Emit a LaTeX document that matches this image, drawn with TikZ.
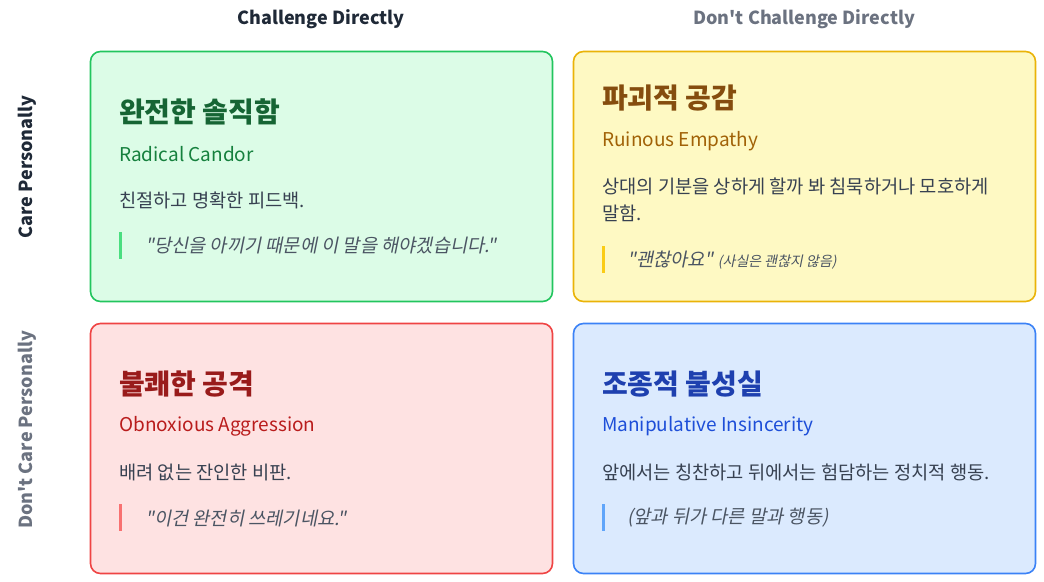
\documentclass[tikz,border=0pt]{standalone}
\usepackage{fontspec}
\setmainfont{Noto Sans CJK KR}[Ligatures=TeXOff]
\newfontfamily\quotefont{Noto Sans CJK KR}[FakeSlant=0.2,Ligatures=TeXOff]
\usepackage{tikz}
\usetikzlibrary{positioning}
\usepackage{xcolor}

\definecolor{rcLine}{HTML}{22C55E}
\definecolor{rcFill}{HTML}{DCFCE7}
\definecolor{rcTitle}{HTML}{166534}
\definecolor{rcSub}{HTML}{15803D}
\definecolor{rcBar}{HTML}{4ADE80}
\definecolor{reLine}{HTML}{EAB308}
\definecolor{reFill}{HTML}{FEF9C3}
\definecolor{reTitle}{HTML}{854D0E}
\definecolor{reSub}{HTML}{A16207}
\definecolor{reBar}{HTML}{FACC15}
\definecolor{oaLine}{HTML}{EF4444}
\definecolor{oaFill}{HTML}{FEE2E2}
\definecolor{oaTitle}{HTML}{991B1B}
\definecolor{oaSub}{HTML}{B91C1C}
\definecolor{oaBar}{HTML}{F87171}
\definecolor{miLine}{HTML}{3B82F6}
\definecolor{miFill}{HTML}{DBEAFE}
\definecolor{miTitle}{HTML}{1E40AF}
\definecolor{miSub}{HTML}{1D4ED8}
\definecolor{miBar}{HTML}{60A5FA}
\definecolor{bodyText}{HTML}{374151}
\definecolor{quoteText}{HTML}{4B5563}
\definecolor{axisDark}{HTML}{1F2937}
\definecolor{axisGray}{HTML}{6B7280}

\begin{document}
\begin{tikzpicture}[x=1pt, y=-1pt,
    quad/.style={rectangle, rounded corners=10pt, line width=1.6pt,
      minimum width=462pt, minimum height=250pt, inner sep=0pt},
    axis/.style={font=\bfseries\fontsize{18}{21}\selectfont, inner sep=0pt},
    title/.style={anchor=west, inner sep=0pt, font=\bfseries\fontsize{28}{32}\selectfont},
    subtitle/.style={anchor=west, inner sep=0pt, font=\fontsize{19}{23}\selectfont},
    desc/.style={anchor=west, inner sep=0pt, text=bodyText, align=left,
      font=\fontsize{18.7}{27}\selectfont},
    quote/.style={anchor=west, inner sep=0pt, text=quoteText,
      font=\quotefont\fontsize{18.7}{22}\selectfont},
    bar/.style={rectangle, inner sep=0pt, minimum width=3pt, minimum height=27pt}]

    \useasboundingbox (0,0) rectangle (1044,581);

    % axis labels
    \node[axis, text=axisDark] (chal) at (321,19) {Challenge Directly};
    \node[axis, text=axisGray] (nochal) at (804,19) {Don{\char39}t Challenge Directly};
    \node[axis, text=axisDark, rotate=90] (care) at (27,167) {Care Personally};
    \node[axis, text=axisGray, rotate=90] (nocare) at (27,430) {Don{\char39}t Care Personally};

    % quadrants
    \node[quad, draw=rcLine, fill=rcFill] (rc) at (321.5,176.5) {};
    \node[quad, draw=reLine, fill=reFill] (re) at (804.5,176.5) {};
    \node[quad, draw=oaLine, fill=oaFill] (oa) at (321.5,448.5) {};
    \node[quad, draw=miLine, fill=miFill] (mi) at (804.5,448.5) {};

    % Radical Candor (top left)
    \node[title, text=rcTitle] (rcHead) at (119,112) {완전한 솔직함};
    \node[subtitle, text=rcSub] (rcName) at (119,154) {Radical Candor};
    \node[desc] (rcDesc) at (119,200) {친절하고 명확한 피드백.};
    \node[bar, fill=rcBar] (rcBarN) at (120.5,245.5) {};
    \node[quote] (rcQuote) at (145,246) {"당신을 아끼기 때문에 이 말을 해야겠습니다."};

    % Ruinous Empathy (top right)
    \node[title, text=reTitle] (reHead) at (602,98) {파괴적 공감};
    \node[subtitle, text=reSub] (reName) at (602,141) {Ruinous Empathy};
    \node[desc] (reDesc) at (602,200) {상대의 기분을 상하게 할까 봐 침묵하거나 모호하게\\말함.};
    \node[bar, fill=reBar] (reBarN) at (603.5,259.5) {};
    \node[quote] (reQuote) at (627,260) {"괜찮아요" {\fontsize{14}{17}\selectfont(사실은 괜찮지 않음)}};

    % Obnoxious Aggression (bottom left)
    \node[title, text=oaTitle] (oaHead) at (119,384) {불쾌한 공격};
    \node[subtitle, text=oaSub] (oaName) at (119,426) {Obnoxious Aggression};
    \node[desc] (oaDesc) at (119,472) {배려 없는 잔인한 비판.};
    \node[bar, fill=oaBar] (oaBarN) at (120.5,517) {};
    \node[quote] (oaQuote) at (145,518) {"이건 완전히 쓰레기네요."};

    % Manipulative Insincerity (bottom right)
    \node[title, text=miTitle] (miHead) at (602,384) {조종적 불성실};
    \node[subtitle, text=miSub] (miName) at (602,426) {Manipulative Insincerity};
    \node[desc] (miDesc) at (602,472) {앞에서는 칭찬하고 뒤에서는 험담하는 정치적 행동.};
    \node[bar, fill=miBar] (miBarN) at (603.5,517) {};
    \node[quote] (miQuote) at (627,518) {(앞과 뒤가 다른 말과 행동)};

\end{tikzpicture}
\end{document}
